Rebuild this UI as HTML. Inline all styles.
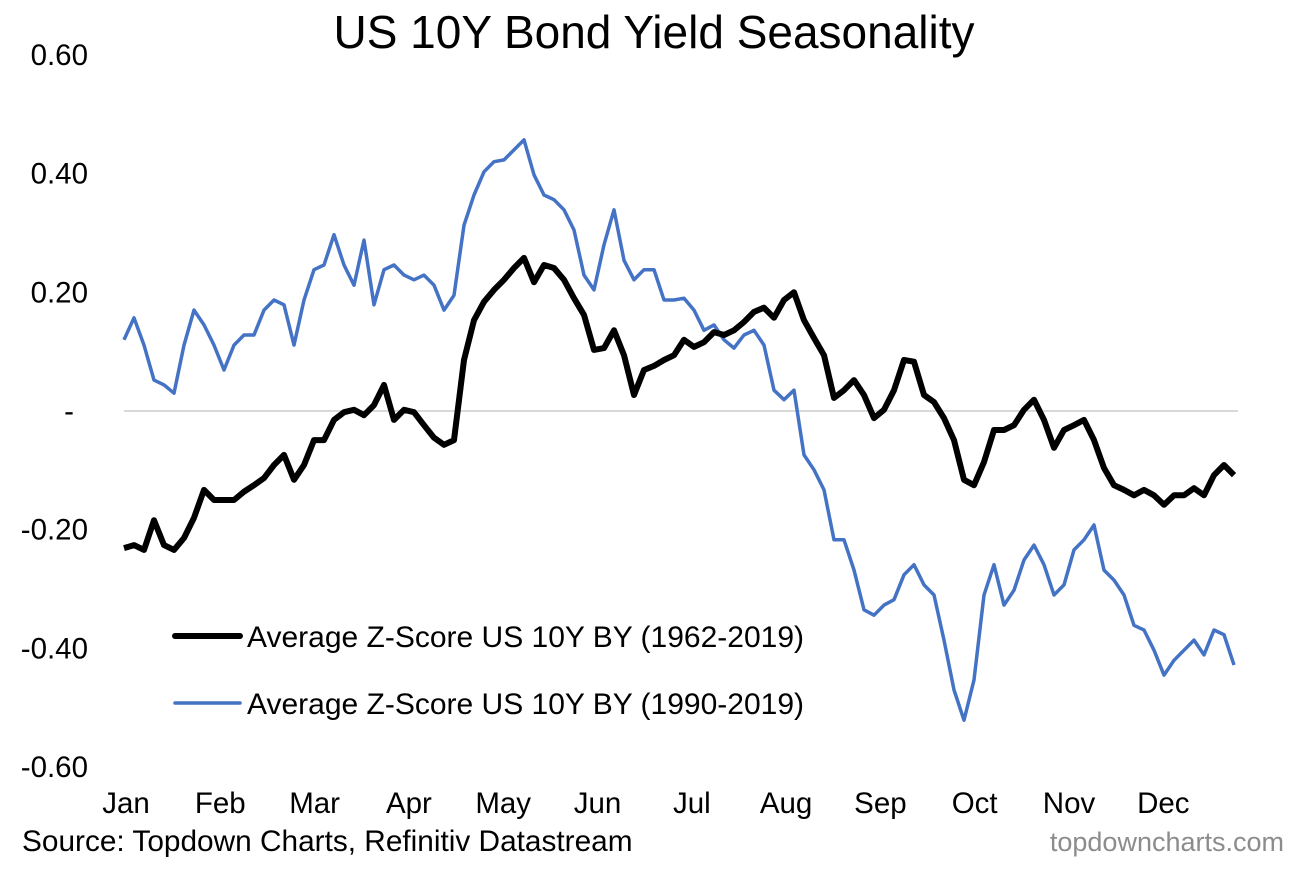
<!DOCTYPE html>
<html><head><meta charset="utf-8"><style>
body{margin:0;background:#fff;width:1304px;height:865px;overflow:hidden;font-family:"Liberation Sans",Arial,sans-serif}
svg text{font-family:"Liberation Sans",Arial,sans-serif}
</style></head><body>
<svg id="chart" width="1304" height="865" xmlns="http://www.w3.org/2000/svg">
<text x="654" y="48" text-anchor="middle" font-size="46" fill="#000">US 10Y Bond Yield Seasonality</text>
<g id="yaxis"></g>
<g id="xaxis"></g>
<line x1="124" x2="1238" y1="411" y2="411" stroke="#d9d9d9" stroke-width="2"/>
<g id="series"></g>
<g>
<line x1="175" x2="240" y1="636" y2="636" stroke="#000" stroke-width="6" stroke-linecap="round"/>
<text x="247" y="647" font-size="30">Average Z-Score US 10Y BY (1962-2019)</text>
<line x1="175" x2="240" y1="703" y2="703" stroke="#4472c4" stroke-width="3.5" stroke-linecap="round"/>
<text x="247" y="714" font-size="30">Average Z-Score US 10Y BY (1990-2019)</text>
</g>
<text x="22" y="851" font-size="29.8">Source: Topdown Charts, Refinitiv Datastream</text>
<text x="1284" y="851" font-size="27" text-anchor="end" fill="#8c8c8c">topdowncharts.com</text>
</svg>
<script>
const months=["Jan","Feb","Mar","Apr","May","Jun","Jul","Aug","Sep","Oct","Nov","Dec"];
const yTicks=[0.6,0.4,0.2,0,-0.2,-0.4,-0.6];
const yTickLabels=["0.60","0.40","0.20","-","-0.20","-0.40","-0.60"];
const series1962=[-0.231,-0.226,-0.234,-0.184,-0.226,-0.234,-0.214,-0.180,-0.133,-0.150,-0.150,-0.150,-0.136,-0.125,-0.113,-0.091,-0.074,-0.116,-0.091,-0.049,-0.049,-0.015,-0.002,0.002,-0.007,0.010,0.044,-0.015,0.002,-0.002,-0.024,-0.045,-0.057,-0.049,0.086,0.153,0.184,0.204,0.221,0.241,0.258,0.217,0.246,0.241,0.221,0.190,0.162,0.103,0.106,0.136,0.094,0.027,0.069,0.076,0.086,0.094,0.120,0.108,0.116,0.133,0.128,0.136,0.150,0.167,0.174,0.157,0.187,0.200,0.153,0.123,0.094,0.022,0.035,0.052,0.027,-0.012,0.002,0.035,0.086,0.083,0.027,0.015,-0.012,-0.049,-0.116,-0.125,-0.086,-0.032,-0.032,-0.024,0.002,0.019,-0.015,-0.062,-0.032,-0.024,-0.015,-0.049,-0.096,-0.125,-0.133,-0.142,-0.133,-0.142,-0.158,-0.142,-0.142,-0.130,-0.142,-0.108,-0.091,-0.108];
const series1990=[0.120,0.157,0.111,0.052,0.044,0.030,0.111,0.170,0.145,0.111,0.069,0.111,0.128,0.128,0.170,0.187,0.179,0.111,0.187,0.238,0.246,0.297,0.246,0.212,0.288,0.179,0.238,0.246,0.229,0.221,0.229,0.212,0.170,0.195,0.313,0.364,0.403,0.420,0.423,0.440,0.457,0.398,0.364,0.356,0.339,0.305,0.229,0.204,0.280,0.339,0.254,0.221,0.238,0.238,0.187,0.187,0.190,0.170,0.136,0.145,0.120,0.106,0.128,0.136,0.111,0.035,0.019,0.035,-0.074,-0.099,-0.133,-0.217,-0.217,-0.268,-0.335,-0.344,-0.327,-0.318,-0.276,-0.259,-0.293,-0.310,-0.386,-0.470,-0.521,-0.453,-0.310,-0.259,-0.327,-0.302,-0.251,-0.226,-0.259,-0.310,-0.293,-0.234,-0.217,-0.192,-0.268,-0.285,-0.310,-0.361,-0.369,-0.403,-0.445,-0.420,-0.403,-0.386,-0.411,-0.369,-0.377,-0.428];
const NS="http://www.w3.org/2000/svg";
const yScale=v=>411-v*593.5;
const xScale=(i,n)=>124+i*(1110/(n-1));
const ya=document.getElementById('yaxis');
yTicks.forEach((t,i)=>{const e=document.createElementNS(NS,'text');


e.setAttribute('x',t===0?74:88);e.setAttribute('y',yScale(t)+10);e.setAttribute('text-anchor','end');e.setAttribute('font-size','29.5');e.textContent=yTickLabels[i];ya.appendChild(e);});
const xa=document.getElementById('xaxis');
months.forEach((m,i)=>{const e=document.createElementNS(NS,'text');


e.setAttribute('x',126+i*94.3);e.setAttribute('y',813);e.setAttribute('text-anchor','middle');e.setAttribute('font-size','29.5');e.textContent=m;xa.appendChild(e);});
function draw(arr,color,w,name){const p=document.createElementNS(NS,'polyline');


p.setAttribute('points',arr.map((v,i)=>xScale(i,arr.length).toFixed(1)+','+yScale(v).toFixed(1)).join(' '));
p.setAttribute('fill','none');p.setAttribute('stroke',color);p.setAttribute('stroke-width',w);p.setAttribute('stroke-linejoin','round');
document.getElementById('series').appendChild(p);}
draw(series1990,'#4472c4',3.5,'line-1990-2019');
draw(series1962,'#000',6,'line-1962-2019');
</script>
</body></html>
